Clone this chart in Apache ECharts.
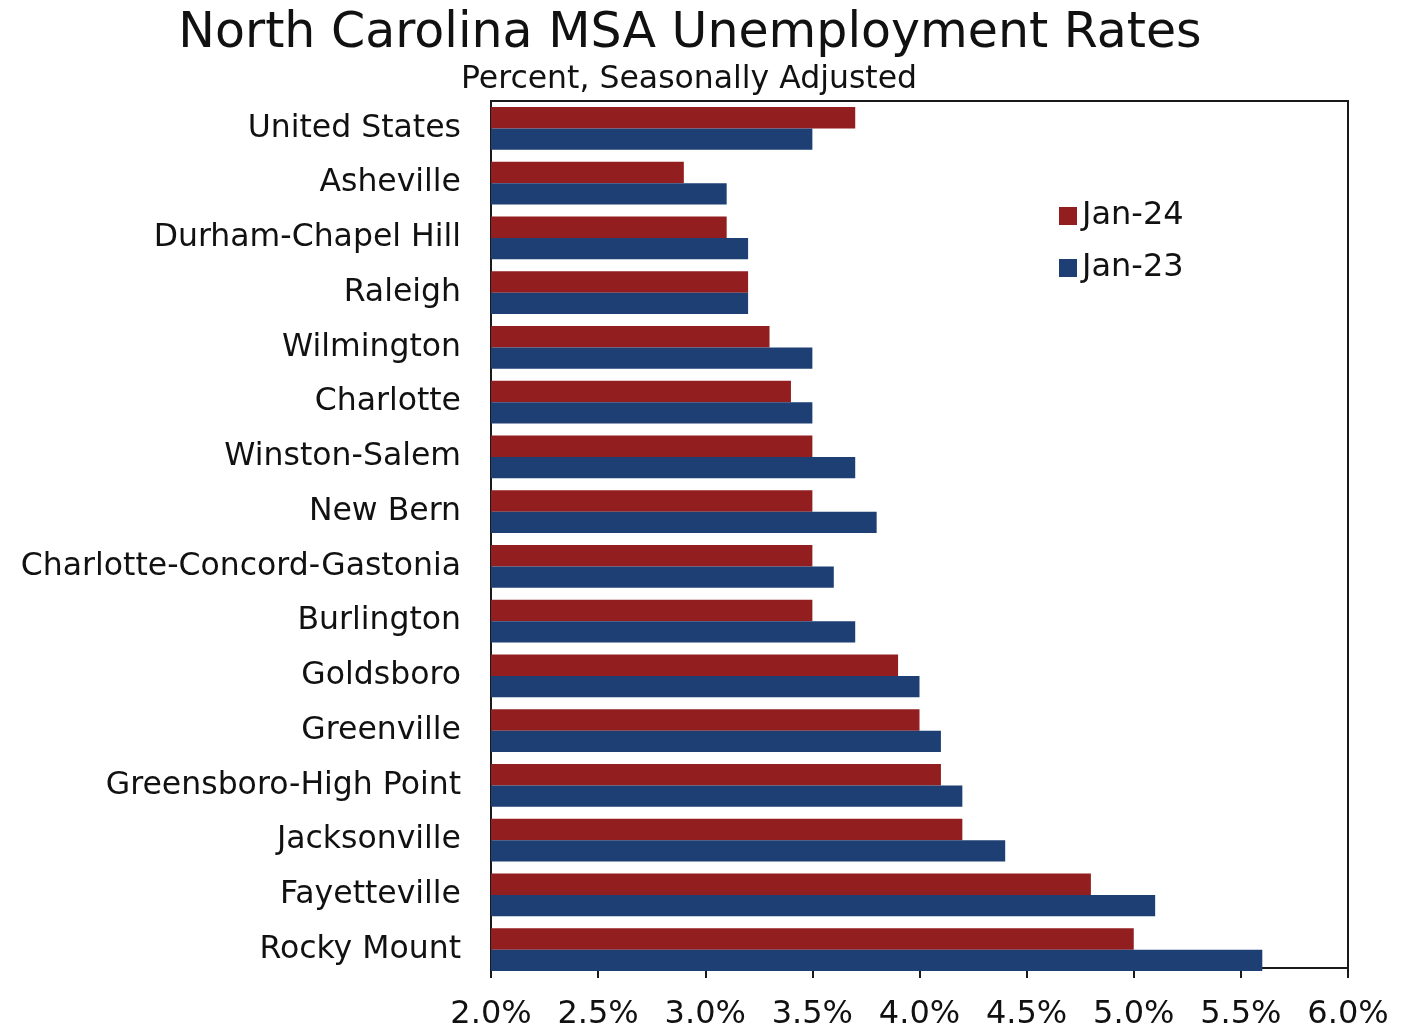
<!DOCTYPE html>
<html>
<head>
<meta charset="utf-8">
<script src="https://cdn.jsdelivr.net/npm/echarts@6/dist/echarts.min.js"></script>
<style>
  html, body { margin: 0; padding: 0; background: #fff; }
  #chart { width: 1403px; height: 1031px; }
</style>
</head>
<body>
<div id="chart"></div>
<script>
// Metro areas, top to bottom
const categories = [
  'United States', 'Asheville', 'Durham-Chapel Hill', 'Raleigh', 'Wilmington',
  'Charlotte', 'Winston-Salem', 'New Bern', 'Charlotte-Concord-Gastonia',
  'Burlington', 'Goldsboro', 'Greenville', 'Greensboro-High Point',
  'Jacksonville', 'Fayetteville', 'Rocky Mount'
];
// Unemployment rate, percent
const jan24 = [3.7, 2.9, 3.1, 3.2, 3.3, 3.4, 3.5, 3.5, 3.5, 3.5, 3.9, 4.0, 4.1, 4.2, 4.8, 5.0];
const jan23 = [3.5, 3.1, 3.2, 3.2, 3.5, 3.5, 3.7, 3.8, 3.6, 3.7, 4.0, 4.1, 4.2, 4.4, 5.1, 5.6];
const xTicks = { min: 2.0, max: 6.0, step: 0.5 };

const FONT = 'DejaVu Sans';
const INK = '#1a1a1a';
const chart = echarts.init(document.getElementById('chart'));
chart.setOption({
  animation: false,
  backgroundColor: '#ffffff',
  textStyle: { fontFamily: FONT },
  title: [
    {
      text: 'North Carolina MSA Unemployment Rates',
      left: 685, top: 5, textAlign: 'center',
      textStyle: { fontFamily: FONT, fontSize: 49, fontWeight: 'normal', color: '#111' }
    },
    {
      text: 'Percent, Seasonally Adjusted',
      left: 684, top: 59, textAlign: 'center',
      textStyle: { fontFamily: FONT, fontSize: 31.5, fontWeight: 'normal', color: '#111' }
    }
  ],
  legend: {
    orient: 'vertical',
    left: 1054, top: 195,
    itemWidth: 18, itemHeight: 18, itemGap: 20,
    icon: 'rect',
    textStyle: { fontFamily: FONT, fontSize: 32, lineHeight: 32, color: '#111' },
    data: ['Jan-24', 'Jan-23']
  },
  grid: [
    // frame and value axis
    { left: 491, right: 55, top: 101, bottom: 62, show: true, borderColor: INK, borderWidth: 2 },
    // bar area (last bar band reaches the frame's bottom edge)
    { left: 491, right: 55, top: 101, bottom: 54 }
  ],
  xAxis: [
    {
      gridIndex: 0, type: 'value',
      min: xTicks.min, max: xTicks.max, interval: xTicks.step,
      axisLine: { show: true, lineStyle: { color: INK, width: 2 } },
      axisTick: { show: true, length: 10, lineStyle: { color: INK, width: 2 } },
      splitLine: { show: false },
      axisLabel: {
        margin: 31, fontFamily: FONT, fontSize: 32, color: '#111',
        formatter: v => v.toFixed(1) + '%'
      }
    },
    {
      gridIndex: 1, type: 'value',
      min: xTicks.min, max: xTicks.max, interval: xTicks.step,
      show: false
    }
  ],
  yAxis: [
    {
      gridIndex: 0, type: 'value', min: 0, max: 1, show: false
    },
    {
      gridIndex: 1, type: 'category', inverse: true, data: categories,
      axisLine: { show: false },
      axisTick: { show: false },
      axisLabel: {
        margin: 30, fontFamily: FONT, fontSize: 31.5, color: '#111',
        padding: [6, 0, 0, 0]
      }
    }
  ],
  series: [
    {
      name: 'Jan-24', type: 'bar', data: jan24,
      xAxisIndex: 1, yAxisIndex: 1,
      barGap: '0%', barCategoryGap: '22%',
      itemStyle: { color: '#921E1F' }
    },
    {
      name: 'Jan-23', type: 'bar', data: jan23,
      xAxisIndex: 1, yAxisIndex: 1,
      barGap: '0%', barCategoryGap: '22%',
      itemStyle: { color: '#1E3F73' }
    }
  ]
});
</script>
</body>
</html>
